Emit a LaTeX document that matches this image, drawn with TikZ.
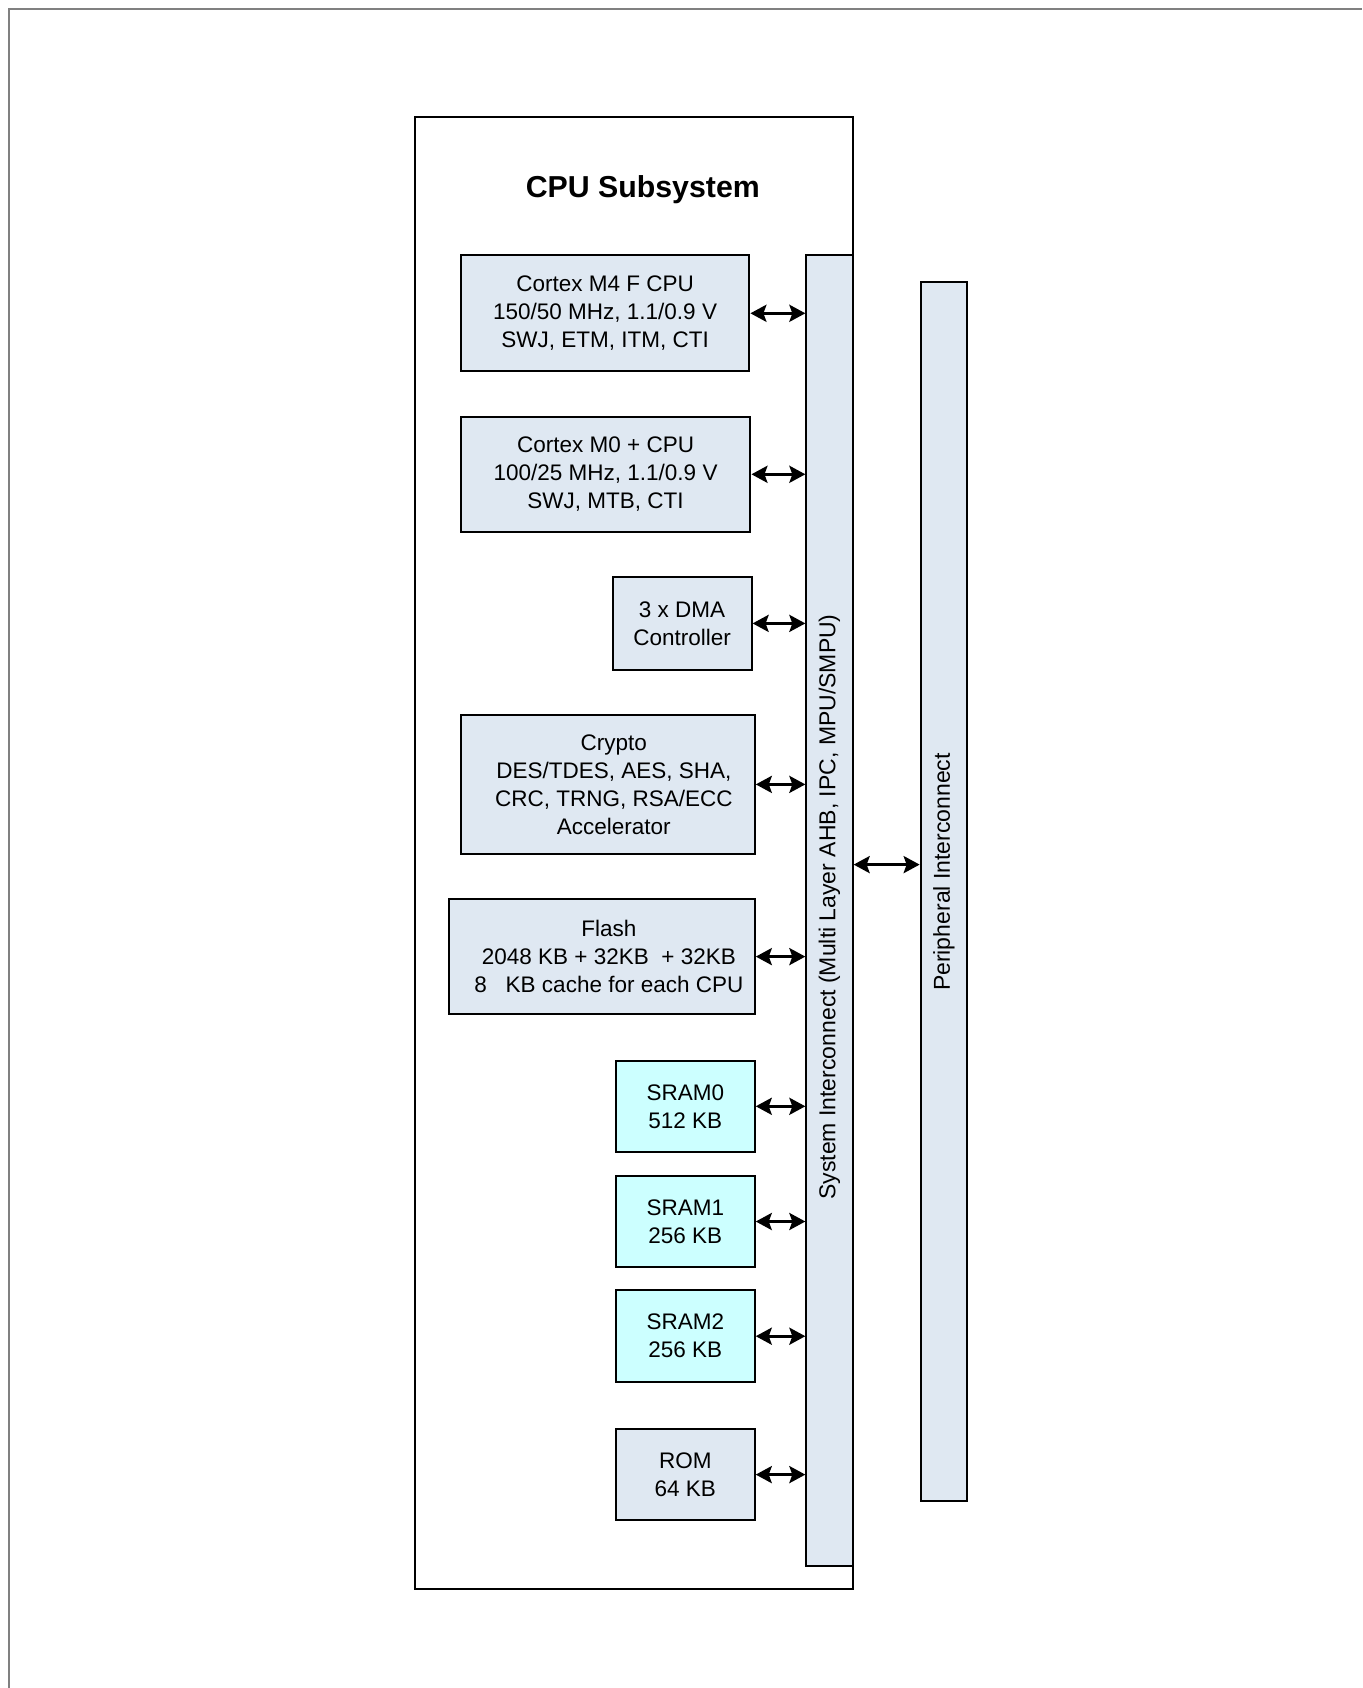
\documentclass[tikz,border=0pt]{standalone}
\usepackage{fontspec}
\setmainfont{Liberation Sans}
\usetikzlibrary{arrows.meta}
\definecolor{blockblue}{HTML}{DFE8F2}
\definecolor{sramcyan}{HTML}{CCFFFF}
\definecolor{framegray}{HTML}{808080}
\tikzset{
	blk/.style={draw, line width=2pt, fill=blockblue, align=center, inner sep=0pt,
		font=\fontsize{22.5}{28}\selectfont},
	sram/.style={blk, fill=sramcyan},
	bus/.style={draw, line width=2pt, fill=blockblue, inner sep=0pt, minimum width=46.3pt},
	buslabel/.style={rotate=90, font=\fontsize{23}{26}\selectfont},
	biarrow/.style={line width=3pt, {Stealth[length=16pt,width=17pt,inset=3pt]}-{Stealth[length=16pt,width=17pt,inset=3pt]}}
}
\begin{document}
\begin{tikzpicture}[x=1pt, y=-1pt]
	\useasboundingbox (0,0) rectangle (1362,1688);
	%page frame
	\draw[framegray, line width=2pt] (9,1688) -- (9,9) -- (1362,9);
	%
	%cpu subsystem
	\draw[line width=2pt] (414.5,117.4) rectangle (852.7,1589.2);
	\node[font=\fontsize{30.3}{36}\selectfont\bfseries] (title) at (642.8,189.5) {CPU Subsystem};
	%
	%buses
	\node[bus, minimum height=1310.3pt] (sysbus) at (829.5,910.4) {};
	\node[bus, minimum height=1218.8pt] (periph) at (943.8,891.5) {};
	\node[buslabel] (syslabel) at (829.5,907) {System Interconnect (Multi Layer AHB, IPC, MPU/SMPU)};
	\node[buslabel] (periphlabel) at (943.8,872) {Peripheral Interconnect};
	%
	%blocks
	\node[blk, minimum width=288.6pt, minimum height=116.3pt] (m4) at (605.1,313.3)
		{Cortex M4 F CPU\\150/50 MHz, 1.1/0.9 V\\SWJ, ETM, ITM, CTI};
	\node[blk, minimum width=289.7pt, minimum height=115.2pt] (m0) at (605.6,474.3)
		{Cortex M0 + CPU\\100/25 MHz, 1.1/0.9 V\\SWJ, MTB, CTI};
	\node[blk, minimum width=139pt, minimum height=92.6pt] (dma) at (682.1,623.4)
		{3 x DMA\\Controller};
	\node[blk, minimum width=294pt, minimum height=138.9pt] (crypto) at (607.8,784.4)
		{\hspace*{12pt}Crypto\\\hspace*{12pt}DES/TDES, AES, SHA,\\\hspace*{12pt}CRC, TRNG, RSA/ECC\\\hspace*{12pt}Accelerator};
	\node[blk, minimum width=305.8pt, minimum height=115.3pt] (flash) at (601.9,956.6)
		{\hspace*{14pt}Flash\\\hspace*{14pt}2048 KB + 32KB \ + 32KB\\\hspace*{14pt}8 \ \ KB cache for each CPU};
	\node[sram, minimum width=138.9pt, minimum height=91.6pt] (sram0) at (685.3,1106.3)
		{SRAM0\\512 KB};
	\node[sram, minimum width=138.9pt, minimum height=91.6pt] (sram1) at (685.3,1221.5)
		{SRAM1\\256 KB};
	\node[sram, minimum width=138.9pt, minimum height=91.6pt] (sram2) at (685.3,1336.2)
		{SRAM2\\256 KB};
	\node[blk, minimum width=138.9pt, minimum height=91.6pt] (rom) at (685.3,1474.6)
		{ROM\\64 KB};
	%
	%links
	\foreach \blkname in {m4, m0, dma, crypto, flash, sram0, sram1, sram2, rom}
		\draw[biarrow] (\blkname.east) -- (\blkname.east -| sysbus.west);
	\coordinate (busy) at (0,864.6);
	\draw[biarrow] (sysbus.east |- busy) -- (periph.west |- busy);
\end{tikzpicture}
\end{document}
